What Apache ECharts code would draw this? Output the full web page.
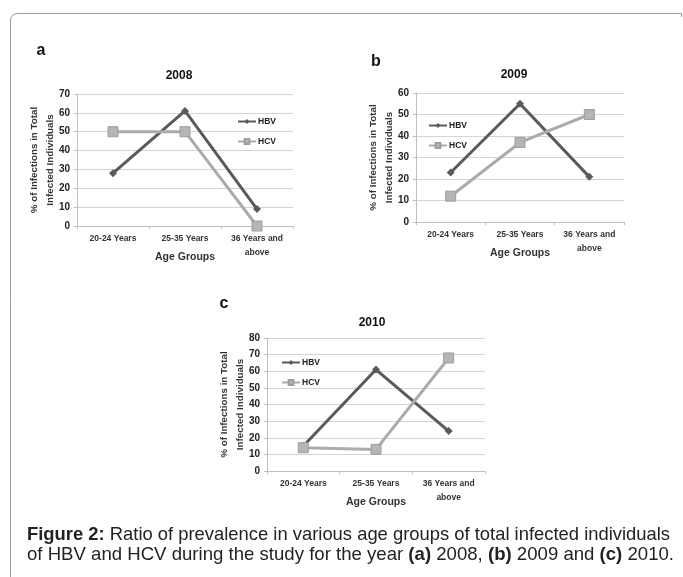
<!DOCTYPE html>
<html><head><meta charset="utf-8">
<script src="https://cdn.jsdelivr.net/npm/echarts@6/dist/echarts.min.js"></script>
<style>html,body{margin:0;padding:0;background:#fff;}#c{width:683px;height:577px;}</style>
</head><body><div id="c"></div>
<script>
const categories = ['20-24 Years', '25-35 Years', '36 Years and\nabove'];
const hbv2008 = [28, 61, 9];
const hcv2008 = [50, 50, 0];
const hbv2009 = [23, 55, 21];
const hcv2009 = [12, 37, 50];
const hbv2010 = [15, 61, 24];
const hcv2010 = [14, 13, 68];
const yMax = [70, 60, 80];
const years = ['2008', '2009', '2010'];
const letters = ['a', 'b', 'c'];
const captionLine1 = [['Figure 2:', true], [' Ratio of prevalence in various age groups of total infected individuals', false]];
const captionLine2 = [['of HBV and HCV during the study for the year ', false], ['(a)', true], [' 2008, ', false], ['(b)', true], [' 2009 and ', false], ['(c)', true], [' 2010.', false]];

const FONT = '"Liberation Sans", Arial, sans-serif';
const panels = [
  {grid: {left: 77, top: 94, width: 216, height: 132}, title: [179, 76], letter: [41, 51], legend: [237, 117], hbv: hbv2008, hcv: hcv2008},
  {grid: {left: 416, top: 93, width: 208, height: 129}, title: [514, 75], letter: [376, 62], legend: [428, 121], hbv: hbv2009, hcv: hcv2009},
  {grid: {left: 267, top: 338, width: 218, height: 133}, title: [372, 323], letter: [224, 304], legend: [281, 358], hbv: hbv2010, hcv: hcv2010}
];

const grids = [], xAxes = [], yAxes = [], series = [], legends = [], graphics = [];
panels.forEach((p, i) => {
  grids.push(p.grid);
  xAxes.push({
    type: 'category', gridIndex: i, data: categories, boundaryGap: true,
    name: 'Age Groups', nameLocation: 'middle', nameGap: 26, nameMoveOverlap: false,
    nameTextStyle: {fontFamily: FONT, fontWeight: 'bold', fontSize: 10.5, color: '#333'},
    axisLine: {lineStyle: {color: '#bfbfbf'}},
    axisTick: {show: true, length: 3, lineStyle: {color: '#bfbfbf'}},
    axisLabel: {fontFamily: FONT, fontWeight: 'bold', fontSize: 8.5, color: '#333', margin: 6, lineHeight: 14, interval: 0}
  });
  yAxes.push({
    type: 'value', gridIndex: i, min: 0, max: yMax[i], interval: 10,
    name: '% of Infections in Total\nInfected Individuals', nameLocation: 'middle', nameRotate: 90, nameGap: 19, nameMoveOverlap: false,
    nameTextStyle: {fontFamily: FONT, fontWeight: 'bold', fontSize: 9.8, color: '#333', lineHeight: 16},
    axisLine: {show: true, lineStyle: {color: '#bfbfbf'}},
    axisTick: {show: true, length: 3, lineStyle: {color: '#bfbfbf'}},
    splitLine: {lineStyle: {color: '#d4d4d4'}},
    axisLabel: {fontFamily: FONT, fontWeight: 'bold', fontSize: 10, color: '#222', margin: 7}
  });
  series.push({
    name: 'HCV', type: 'line', xAxisIndex: i, yAxisIndex: i, data: p.hcv,
    symbol: 'rect', symbolSize: 10, lineStyle: {color: '#ababab', width: 3},
    itemStyle: {color: '#b5b5b5', borderColor: '#9e9e9e', borderWidth: 1}, z: 2
  });
  series.push({
    name: 'HBV', type: 'line', xAxisIndex: i, yAxisIndex: i, data: p.hbv,
    symbol: 'diamond', symbolSize: 8, lineStyle: {color: '#5a5a5a', width: 3},
    itemStyle: {color: '#5a5a5a'}, z: 1
  });
  legends.push({
    data: ['HBV', 'HCV'], orient: 'vertical', left: p.legend[0], top: p.legend[1],
    itemWidth: 18, itemHeight: 6, itemGap: 11,
    textStyle: {fontFamily: FONT, fontWeight: 'bold', fontSize: 8.5, color: '#222', padding: [0, 0, 0, -3]},
    padding: 0, selectedMode: false
  });
  graphics.push({type: 'text', x: p.title[0], y: p.title[1], style: {text: years[i], font: 'bold 12px ' + FONT, fill: '#111', textAlign: 'center', textVerticalAlign: 'middle'}});
  graphics.push({type: 'text', x: p.letter[0], y: p.letter[1], style: {text: letters[i], font: 'bold 16px ' + FONT, fill: '#111', textAlign: 'center', textVerticalAlign: 'middle'}});
});

// frame
graphics.push({type: 'polyline', shape: {points: [[10.5, 580], [10.5, 21]]}, style: {stroke: '#9a9a9a', lineWidth: 1, fill: null}});
graphics.push({type: 'bezierCurve', shape: {x1: 10.5, y1: 21, cpx1: 10.5, cpy1: 13.5, x2: 18, y2: 13.5}, style: {stroke: '#9a9a9a', lineWidth: 1, fill: null}});
graphics.push({type: 'polyline', shape: {points: [[18, 13.5], [681.5, 13.5], [681.5, 17]]}, style: {stroke: '#9a9a9a', lineWidth: 1, fill: null}});

// caption
const meas = document.createElement('canvas').getContext('2d');
function buildLine(parts, x0, x1, y, size) {
  let w = 0, txt = '';
  parts.forEach(([t, b]) => {
    meas.font = (b ? 'bold ' : '') + size + 'px ' + FONT;
    w += meas.measureText(t).width;
    txt += b ? '{b|' + t + '}' : t;
  });
  const s = (x1 - x0) / w;
  return {type: 'text', x: x0, y: y, scaleX: s, scaleY: 1,
    style: {text: txt, font: size + 'px ' + FONT, fill: '#222', textVerticalAlign: 'middle',
      rich: {b: {fontWeight: 'bold', fontSize: size, fontFamily: FONT, fill: '#222'}}}};
}
graphics.push(buildLine(captionLine1, 27, 670, 535, 18.5));
graphics.push(buildLine(captionLine2, 27, 674, 555, 18.5));

const chart = echarts.init(document.getElementById('c'), null, {renderer: 'canvas'});
chart.setOption({
  animation: false,
  backgroundColor: '#fff',
  grid: grids, xAxis: xAxes, yAxis: yAxes, series: series, legend: legends, graphic: graphics
});
</script></body></html>
